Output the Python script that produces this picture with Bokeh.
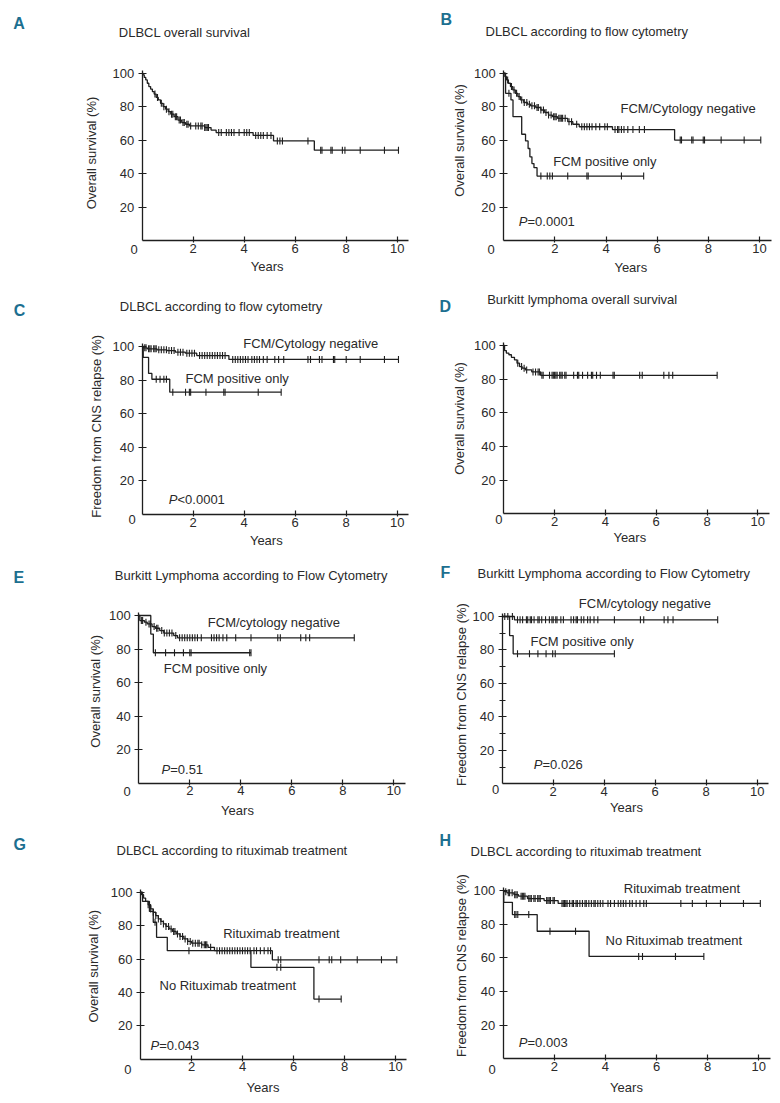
import numpy as np
from bokeh.plotting import figure
from bokeh.models import Range1d, FixedTicker, Label, LinearAxis
from bokeh.layouts import row, column
from bokeh.embed import file_html
from bokeh.resources import INLINE

# ---------------- data (years, survival %) ----------------
X_TICKS = [2, 4, 6, 8, 10]
Y_TICKS = [20, 40, 60, 80, 100]
F_MINOR = [10, 30, 50, 70, 90]

# A  DLBCL overall survival
A_times = [0.03, 0.08, 0.14, 0.2, 0.26, 0.33, 0.4, 0.47, 0.55, 0.63, 0.72, 0.82, 0.92, 1.02, 1.12,
           1.25, 1.4, 1.55, 1.7, 1.85, 2.45, 2.7, 2.9, 4.35, 5.15, 6.75]
A_surv = [99, 97.5, 96, 94, 92, 90.5, 89, 87.5, 85.5, 84, 82, 80, 78.5, 77, 75.5,
          74, 72, 70.5, 69.5, 68.5, 67.5, 66, 64.5, 62.8, 59.5, 54]
A_end = 10.05
A_cens = [0.5, 0.6, 0.75, 0.85, 0.95, 1.05, 1.15, 1.2, 1.3, 1.35, 1.45, 1.5, 1.6, 1.65, 1.75, 1.8,
          1.9, 2.1, 2.2, 2.3, 2.35, 2.45, 2.5, 2.55, 2.6, 3.0, 3.1, 3.3, 3.4, 3.5, 3.6, 3.8, 4.0,
          4.1, 4.2, 4.45, 4.55, 4.65, 4.75, 4.9, 5.05, 5.3, 5.4, 5.5, 6.5, 7.0, 7.05, 7.4, 7.45,
          7.85, 7.95, 8.55, 9.5, 10.05]

# B  DLBCL according to flow cytometry (overall survival)
B_neg_times = [0.04, 0.1, 0.18, 0.26, 0.35, 0.45, 0.55, 0.65, 0.78, 0.92, 1.05, 1.25, 1.45, 1.6,
               1.75, 1.9, 2.1, 2.5, 2.7, 2.95, 4.25, 6.68]
B_neg_surv = [98, 96, 94, 92, 90, 88, 86, 84, 82.5, 81.5, 80.5, 79.5, 78, 76.5,
              75, 74, 73, 71, 69.5, 68, 66.3, 60]
B_neg_end = 10.05
B_neg_cens = [0.15, 0.3, 0.4, 0.5, 0.6, 0.7, 0.8, 0.9, 1.0, 1.1, 1.2, 1.3, 1.35, 1.45, 1.55, 1.65,
              1.75, 1.85, 1.95, 2.0, 2.05, 2.15, 2.2, 2.25, 2.3, 2.4, 2.55, 2.65, 2.85, 3.05, 3.15,
              3.25, 3.35, 3.45, 3.6, 3.75, 3.95, 4.05, 4.35, 4.45, 4.5, 4.6, 4.7, 4.85, 5.05, 5.3,
              5.5, 6.9, 6.95, 7.35, 7.4, 7.8, 7.85, 8.5, 9.4, 10.05]
B_pos_times = [0.07, 0.28, 0.36, 0.7, 0.85, 0.95, 1.02, 1.1, 1.18, 1.3]
B_pos_surv = [88, 84, 74, 63.5, 59.5, 55, 50, 46, 43.5, 38.5]
B_pos_end = 5.47
B_pos_cens = [0.2, 1.45, 1.7, 1.8, 1.9, 2.5, 3.25, 3.3, 4.6, 5.47]

# C  DLBCL according to flow cytometry (freedom from CNS relapse)
C_neg_times = [0.05, 0.2, 0.58, 0.97, 1.3, 1.69, 2.14, 3.4]
C_neg_surv = [99.2, 98.6, 98, 97.6, 96.6, 96, 94.6, 92.3]
C_neg_end = 10.05
C_neg_cens = [0.1, 0.15, 0.25, 0.3, 0.35, 0.45, 0.5, 0.55, 0.65, 0.75, 0.85, 0.95, 1.05, 1.15, 1.25,
              1.4, 1.5, 1.6, 1.75, 1.85, 1.95, 2.05, 2.25, 2.35, 2.45, 2.55, 2.65, 2.75, 2.85, 2.95,
              3.05, 3.15, 3.25, 3.55, 3.65, 3.75, 3.85, 3.95, 4.05, 4.15, 4.3, 4.4, 4.5, 4.6, 4.75,
              4.9, 5.2, 5.35, 5.55, 6.5, 6.6, 6.95, 7.05, 7.5, 7.55, 8.0, 8.55, 9.5, 10.05]
C_pos_times = [0.04, 0.25, 0.38, 1.08]
C_pos_surv = [93.5, 84, 80.5, 72.8]
C_pos_end = 5.45
C_pos_cens = [0.55, 0.7, 0.85, 0.95, 1.2, 1.7, 1.85, 1.9, 2.5, 3.2, 3.25, 4.55, 5.45]

# D  Burkitt lymphoma overall survival
D_times = [0.03, 0.1, 0.2, 0.3, 0.42, 0.52, 0.62, 0.72, 0.85, 1.1, 1.45]
D_surv = [97, 95.5, 94.5, 93, 91.5, 89.5, 87.5, 86.5, 85.5, 84.3, 82.3]
D_end = 8.4
D_cens = [0.55, 0.7, 0.8, 0.9, 1.15, 1.25, 1.35, 1.4, 1.5, 1.55, 1.8, 1.9, 1.95, 2.0, 2.05, 2.1,
          2.2, 2.25, 2.3, 2.4, 2.45, 2.75, 2.9, 2.95, 3.1, 3.3, 3.45, 3.5, 3.65, 3.8, 4.3, 4.35,
          5.35, 5.45, 6.3, 6.5, 6.65, 8.4]

# E  Burkitt lymphoma according to flow cytometry (overall survival)
E_neg_times = [0.04, 0.22, 0.33, 0.52, 0.65, 0.82, 0.98, 1.37, 1.52]
E_neg_surv = [97, 96, 95, 93.4, 92.4, 91, 89.5, 88, 86.7]
E_neg_end = 8.45
E_neg_cens = [0.1, 0.15, 0.28, 0.4, 0.45, 0.6, 0.7, 0.75, 0.9, 1.0, 1.1, 1.2, 1.3, 1.45, 1.6, 1.7,
              1.8, 1.9, 2.0, 2.1, 2.2, 2.3, 2.45, 2.85, 2.95, 3.05, 3.15, 3.3, 3.45, 3.8, 4.4,
              5.45, 5.55, 6.35, 6.55, 6.7, 8.45]
E_pos_times = [0.47, 0.57]
E_pos_surv = [88.9, 77.8]
E_pos_end = 4.4
E_pos_cens = [0.65, 1.05, 1.4, 1.75, 2.0, 2.05, 4.35, 4.4]

# F  Burkitt lymphoma according to flow cytometry (freedom from CNS relapse)
F_neg_times = [0.48]
F_neg_surv = [98]
F_neg_end = 8.45
F_neg_cens = [0.1, 0.22, 0.4, 0.6, 0.7, 0.8, 0.95, 1.0, 1.1, 1.15, 1.25, 1.4, 1.45, 1.55, 1.7,
              1.85, 1.95, 2.0, 2.1, 2.15, 2.3, 2.4, 2.7, 2.8, 2.9, 2.95, 3.1, 3.2, 3.35, 3.45, 3.6,
              3.75, 4.4, 5.42, 5.55, 6.35, 6.5, 6.7, 8.45]
F_pos_times = [0.29, 0.43]
F_pos_surv = [88.6, 77.7]
F_pos_end = 4.4
F_pos_cens = [0.6, 1.07, 1.4, 1.72, 1.98, 2.08, 4.4]

# G  DLBCL according to rituximab treatment (overall survival)
G_r_times = [0.04, 0.12, 0.2, 0.3, 0.4, 0.5, 0.6, 0.7, 0.8, 0.9, 1.0, 1.12, 1.25, 1.4, 1.55, 1.7,
             1.85, 2.0, 2.4, 2.65, 2.9, 5.17]
G_r_surv = [98.5, 96.5, 94.5, 92.5, 90, 88, 86, 84, 82.5, 81, 79.5, 78, 76.5, 75, 73.5, 72,
            70.5, 69.5, 68.5, 67, 65, 59.5]
G_r_end = 10.05
G_r_cens = [0.3, 0.4, 0.5, 0.6, 0.7, 0.8, 0.9, 1.0, 1.1, 1.2, 1.3, 1.35, 1.45, 1.55, 1.65, 1.75,
            1.85, 1.95, 2.05, 2.15, 2.25, 2.3, 2.4, 2.5, 2.55, 2.6, 2.75, 3.0, 3.1, 3.2, 3.3, 3.4,
            3.5, 3.6, 3.7, 3.8, 3.9, 4.0, 4.1, 4.2, 4.3, 4.45, 4.55, 4.7, 4.85, 5.0, 5.1, 5.4, 5.5,
            7.0, 7.4, 7.5, 7.85, 8.5, 9.45, 10.05]
G_n_times = [0.08, 0.35, 0.5, 0.63, 1.05, 4.33, 6.8]
G_n_surv = [94.5, 88.5, 82, 73, 65, 55, 36]
G_n_end = 7.87
G_n_cens = [0.57, 1.9, 5.35, 5.5, 7.0, 7.87]

# H  DLBCL according to rituximab treatment (freedom from CNS relapse)
H_r_times = [0.05, 0.15, 0.42, 0.6, 0.95, 1.6, 2.15]
H_r_surv = [99.3, 98.6, 97.5, 96.6, 95.2, 94, 92.3]
H_r_end = 10.06
H_r_cens = [0.1, 0.2, 0.25, 0.35, 0.45, 0.5, 0.55, 0.7, 0.75, 0.8, 0.85, 1.0, 1.05, 1.1, 1.2, 1.25,
            1.35, 1.4, 1.45, 1.7, 1.75, 1.8, 1.85, 1.95, 2.0, 2.3, 2.35, 2.4, 2.45, 2.5, 2.6, 2.7,
            2.75, 2.85, 2.9, 3.0, 3.1, 3.2, 3.25, 3.35, 3.45, 3.55, 3.6, 3.7, 3.8, 3.9, 4.1, 4.2,
            4.35, 4.5, 4.6, 4.7, 4.8, 4.95, 5.05, 5.2, 5.35, 5.5, 5.6, 6.95, 7.4, 7.95, 8.5, 9.4,
            10.06]
H_n_times = [0.02, 0.36, 1.33, 3.36]
H_n_surv = [93, 85.7, 75.8, 60.8]
H_n_end = 7.85
H_n_cens = [0.45, 0.5, 0.57, 1.0, 1.83, 2.83, 5.3, 5.45, 6.74, 7.85]

# ---------------- style / layout ----------------
FONT = "Liberation Sans"
INK = "#1e1e1e"
TXT = "#2a2a2a"
TEAL = "#1c6f90"
FS = "13px"
XMAX = 10.45
YMAX = 101.5

# figure boxes in page pixels (the layout is drawn from the page's top-left corner)
COL_X = [0, 410]
COL_W = [410, 362]
ROW_Y = [0, 280, 552, 822]
ROW_H = [280, 272, 270, 273]

OS = "Overall survival (%)"
FF = "Freedom from CNS relapse (%)"

PANELS = [
    dict(letter="A", geom=(141.7, 240.0, 25.5, 1.673), letter_at=(12.7, 23),
         title="DLBCL overall survival", title_at=(118.3, 31.5),
         ylab=OS, ylab_at=(90.7, 152.5), years_at=(266.7, 265.7), zero_at=(133.7, 249),
         curves=[(A_times, A_surv, A_end, A_cens)], notes=[], pval=None, minor=False),
    dict(letter="B", geom=(503.3, 240.0, 25.57, 1.673), letter_at=(440, 18.7),
         title="DLBCL according to flow cytometry", title_at=(485, 30.5),
         ylab=OS, ylab_at=(459, 140), years_at=(630.3, 266.5), zero_at=(490.7, 249),
         curves=[(B_neg_times, B_neg_surv, B_neg_end, B_neg_cens),
                 (B_pos_times, B_pos_surv, B_pos_end, B_pos_cens)],
         notes=[("FCM/Cytology negative", 620, 107.5), ("FCM positive only", 552.7, 161)],
         pval=("=0.0001", 518.3, 221), minor=False),
    dict(letter="C", geom=(141.7, 514.0, 25.5, 1.68), letter_at=(13.3, 310),
         title="DLBCL according to flow cytometry", title_at=(119.3, 306),
         ylab=FF, ylab_at=(95.5, 425.8), years_at=(265.8, 540), zero_at=(131.7, 519),
         curves=[(C_neg_times, C_neg_surv, C_neg_end, C_neg_cens),
                 (C_pos_times, C_pos_surv, C_pos_end, C_pos_cens)],
         notes=[("FCM/Cytology negative", 242.7, 343), ("FCM positive only", 185, 378.3)],
         pval=("<0.0001", 168.3, 499), minor=False),
    dict(letter="D", geom=(503.3, 513.3, 25.4, 1.683), letter_at=(439, 306),
         title="Burkitt lymphoma overall survival", title_at=(486.7, 299),
         ylab=OS, ylab_at=(459, 418), years_at=(629.3, 536.7), zero_at=(498.3, 519),
         curves=[(D_times, D_surv, D_end, D_cens)], notes=[], pval=None, minor=False),
    dict(letter="E", geom=(138.3, 782.7, 25.5, 1.677), letter_at=(13, 577),
         title="Burkitt Lymphoma according to Flow Cytometry", title_at=(114.3, 575),
         ylab=OS, ylab_at=(94.5, 690.8), years_at=(237, 810), zero_at=(126.7, 791),
         curves=[(E_neg_times, E_neg_surv, E_neg_end, E_neg_cens),
                 (E_pos_times, E_pos_surv, E_pos_end, E_pos_cens)],
         notes=[("FCM/cytology negative", 207.3, 621.7), ("FCM positive only", 163.3, 668.3)],
         pval=("=0.51", 161, 769), minor=False),
    dict(letter="F", geom=(501.7, 783.3, 25.5, 1.673), letter_at=(440, 572),
         title="Burkitt Lymphoma according to Flow Cytometry", title_at=(477, 572.5),
         ylab=FF, ylab_at=(460.5, 694), years_at=(626, 806.7), zero_at=(495, 789),
         curves=[(F_neg_times, F_neg_surv, F_neg_end, F_neg_cens),
                 (F_pos_times, F_pos_surv, F_pos_end, F_pos_cens)],
         notes=[("FCM/cytology negative", 578.3, 603), ("FCM positive only", 530, 641)],
         pval=("=0.026", 533.3, 764), minor=True),
    dict(letter="G", geom=(140.0, 1058.7, 25.5, 1.67), letter_at=(13, 844),
         title="DLBCL according to rituximab treatment", title_at=(116, 850),
         ylab=OS, ylab_at=(92.5, 965.7), years_at=(262.5, 1087), zero_at=(127.3, 1069),
         curves=[(G_r_times, G_r_surv, G_r_end, G_r_cens),
                 (G_n_times, G_n_surv, G_n_end, G_n_cens)],
         notes=[("Rituximab treatment", 222.7, 933), ("No Rituximab treatment", 159, 985)],
         pval=("=0.043", 150, 1044.5), minor=False),
    dict(letter="H", geom=(502.7, 1058.3, 25.56, 1.683), letter_at=(439, 840),
         title="DLBCL according to rituximab treatment", title_at=(470, 851),
         ylab=FF, ylab_at=(460.5, 965), years_at=(626, 1086.7), zero_at=(491.7, 1069),
         curves=[(H_r_times, H_r_surv, H_r_end, H_r_cens),
                 (H_n_times, H_n_surv, H_n_end, H_n_cens)],
         notes=[("Rituximab treatment", 623.3, 888.3), ("No Rituximab treatment", 605, 940)],
         pval=("=0.003", 518.3, 1041.5), minor=False),
]


def level_at(times, surv, t):
    levels = np.concatenate([[100.0], np.asarray(surv, float)])
    idx = np.searchsorted(np.asarray(times, float), np.asarray(t, float), side="right")
    return levels[idx]


def make_panel(spec, fx, fy, fw, fh):
    x0, y0, ppy, ppp = spec["geom"]
    xa = (fx - x0) / ppy
    xb = (fx + fw - x0) / ppy
    yb = (y0 - (fy + fh)) / ppp
    yt = (y0 - fy) / ppp
    p = figure(width=fw, height=fh, x_range=Range1d(xa, xb), y_range=Range1d(yb, yt),
               output_backend="svg", toolbar_location=None,
               x_axis_location=None, y_axis_location=None,
               min_border=0, min_border_left=0, min_border_right=0,
               min_border_top=0, min_border_bottom=0)
    p.outline_line_color = None
    p.grid.visible = False
    p.background_fill_color = "white"
    p.border_fill_color = "white"

    def d(px, py):
        return (px - x0) / ppy, (y0 - py) / ppp

    xaxis = LinearAxis(fixed_location=0, bounds=(0, XMAX), ticker=FixedTicker(ticks=X_TICKS))
    if spec["minor"]:
        yaxis = LinearAxis(fixed_location=0, bounds=(0, YMAX),
                           ticker=FixedTicker(ticks=Y_TICKS, minor_ticks=F_MINOR))
        yaxis.minor_tick_in = 3
        yaxis.minor_tick_out = 3
        yaxis.minor_tick_line_color = INK
        yaxis.minor_tick_line_width = 1.1
    else:
        yaxis = LinearAxis(fixed_location=0, bounds=(0, YMAX), ticker=FixedTicker(ticks=Y_TICKS))
        yaxis.minor_tick_line_color = None
    xaxis.minor_tick_line_color = None
    for ax in (xaxis, yaxis):
        ax.axis_line_color = INK
        ax.axis_line_width = 1.3
        ax.major_tick_line_color = INK
        ax.major_tick_line_width = 1.2
        ax.major_label_text_font = FONT
        ax.major_label_text_font_size = FS
        ax.major_label_text_color = TXT
    xaxis.major_tick_in = 4
    xaxis.major_tick_out = 2
    xaxis.major_label_standoff = 1
    yaxis.major_tick_in = 4
    yaxis.major_tick_out = 4
    yaxis.major_label_standoff = 4
    p.add_layout(xaxis, "below")
    p.add_layout(yaxis, "left")

    for times, surv, end, cens in spec["curves"]:
        xs = [0.0] + list(times) + [end]
        ys = [100.0] + list(surv) + [surv[-1]]
        p.step(xs, ys, mode="after", line_color=INK, line_width=1.3)
        cy = level_at(times, surv, cens)
        p.scatter(cens, cy, marker="dash", angle=np.pi / 2, size=7,
                  line_color=INK, line_width=1.1)

    def lab(text, px, py, size=FS, align="left", angle=0.0, style="normal", color=TXT):
        x, y = d(px, py)
        p.add_layout(Label(x=x, y=y, text=text, text_font=FONT, text_font_size=size,
                           text_align=align, text_baseline="middle", angle=angle,
                           text_font_style=style, text_color=color))

    lab(spec["letter"], *spec["letter_at"], size="16px", style="bold", color=TEAL)
    lab(spec["title"], *spec["title_at"])
    lab(spec["ylab"], *spec["ylab_at"], align="center", angle=np.pi / 2)
    lab("Years", *spec["years_at"], align="center")
    lab("0", *spec["zero_at"], align="center")
    for text, px, py in spec["notes"]:
        lab(text, px, py)
    if spec["pval"]:
        text, px, py = spec["pval"]
        lab("P", px, py, style="italic")
        lab(text, px + 8.7, py)
    return p


rows = []
for r in range(4):
    figs = []
    for c in range(2):
        spec = PANELS[r * 2 + c]
        figs.append(make_panel(spec, COL_X[c], ROW_Y[r], COL_W[c], ROW_H[r]))
    rows.append(row(*figs, spacing=0))
layout = column(*rows, spacing=0)

open("out.html", "w").write(file_html(layout, INLINE))
